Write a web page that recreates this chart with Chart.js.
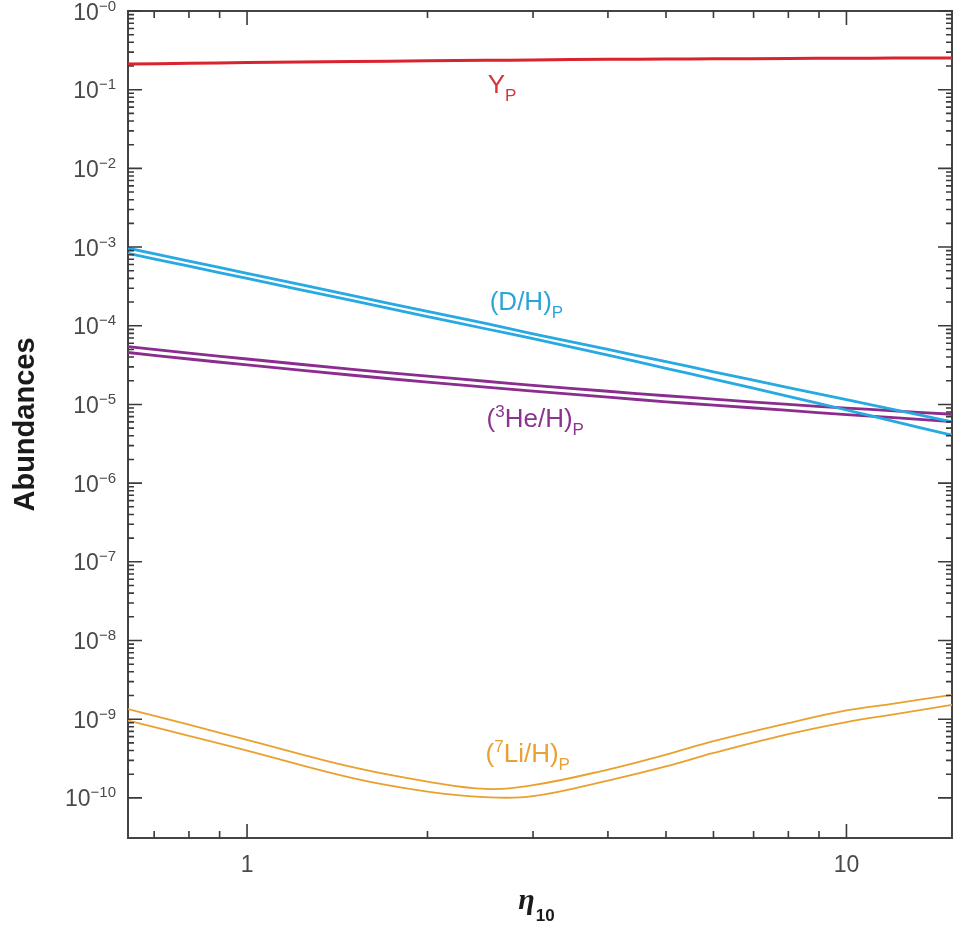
<!DOCTYPE html>
<html>
<head>
<meta charset="utf-8">
<script src="https://cdn.jsdelivr.net/npm/chart.js@4.4.1/dist/chart.umd.min.js"></script>
<style>
  html, body { margin: 0; padding: 0; background: #fff; }
</style>
</head>
<body>
<canvas id="bbnChart" width="953" height="926"></canvas>
<script>
// eta_10 sample points along the curves
const eta = [0.633, 0.8, 1, 1.5, 2, 2.5, 3, 4, 5, 6, 8, 10, 12, 15];

// primordial abundances (upper / lower edge of each band)
const heliumYp = [0.212, 0.216, 0.221, 0.228, 0.233, 0.236, 0.239, 0.243, 0.245, 0.247, 0.249, 0.251, 0.252, 0.253];
const deutHigh = [9.66e-4, 6.64e-4, 4.63e-4, 2.42e-4, 1.52e-4, 1.07e-4, 7.9e-5, 5.0e-5, 3.5e-5, 2.6e-5, 1.64e-5, 1.15e-5, 8.6e-6, 6.0e-6];
const deutLow = [8.32e-4, 5.71e-4, 3.99e-4, 2.08e-4, 1.31e-4, 9.16e-5, 6.84e-5, 4.24e-5, 2.88e-5, 2.10e-5, 1.27e-5, 8.5e-6, 6.1e-6, 4.06e-6];
const he3High = [5.43e-5, 4.50e-5, 3.78e-5, 2.79e-5, 2.29e-5, 1.97e-5, 1.75e-5, 1.47e-5, 1.29e-5, 1.17e-5, 1.00e-5, 9.0e-6, 8.3e-6, 7.5e-6];
const he3Low = [4.57e-5, 3.78e-5, 3.18e-5, 2.35e-5, 1.92e-5, 1.66e-5, 1.48e-5, 1.24e-5, 1.08e-5, 9.8e-6, 8.4e-6, 7.4e-6, 6.8e-6, 6.05e-6];
const li7High = [1.34e-9, 8.5e-10, 5.46e-10, 2.45e-10, 1.61e-10, 1.30e-10, 1.45e-10, 2.29e-10, 3.55e-10, 5.25e-10, 8.9e-10, 1.29e-9, 1.58e-9, 2.04e-9];
const li7Low = [9.6e-10, 6.14e-10, 3.98e-10, 1.78e-10, 1.20e-10, 1.02e-10, 1.05e-10, 1.66e-10, 2.51e-10, 3.72e-10, 6.46e-10, 9.2e-10, 1.15e-9, 1.52e-9];

// axis ticks
const xMajorTicks = [1, 10];
const xTickLabels = ['1', '10'];
const xMinorTicks = [0.7, 0.8, 0.9, 2, 3, 4, 5, 6, 7, 8, 9];
const yMajorTicks = [1, 1e-1, 1e-2, 1e-3, 1e-4, 1e-5, 1e-6, 1e-7, 1e-8, 1e-9, 1e-10];
const yTickExponents = ['−0', '−1', '−2', '−3', '−4', '−5', '−6', '−7', '−8', '−9', '−10'];
const yMinorTicks = [];
yMajorTicks.forEach(d => { for (let k = 2; k <= 9; k++) yMinorTicks.push(d * k); });

const SANS = '"Liberation Sans", Arial, Helvetica, sans-serif';

// curve labels: [text, level] with level 1 = superscript, -1 = subscript
const curveLabels = [
  { eta: 2.52, value: 0.0908, color: '#d8323a', parts: [['Y', 0], ['P', -1]] },
  { eta: 2.54, value: 1.59e-4, color: '#2ba4d8', parts: [['(D/H)', 0], ['P', -1]] },
  { eta: 2.51, value: 5.18e-6, color: '#8c3390', parts: [['(', 0], ['3', 1], ['He/H)', 0], ['P', -1]] },
  { eta: 2.50, value: 2.87e-10, color: '#e9a035', parts: [['(', 0], ['7', 1], ['Li/H)', 0], ['P', -1]] }
];

const pts = arr => eta.map((e, i) => ({ x: e, y: arr[i] }));

function curve(arr, color, width) {
  return {
    data: pts(arr),
    borderColor: color,
    borderWidth: width,
    pointRadius: 0,
    fill: false,
    tension: 0.4
  };
}

function drawRich(ctx, parts, x, base, color) {
  ctx.fillStyle = color;
  ctx.textBaseline = 'alphabetic';
  ctx.textAlign = 'left';
  parts.forEach(([t, lvl]) => {
    const size = lvl === 0 ? 26 : 17;
    ctx.font = size + 'px ' + SANS;
    const dy = lvl === 1 ? -10 : (lvl === -1 ? 8 : 0);
    ctx.fillText(t, x, base + dy);
    x += ctx.measureText(t).width;
  });
}

const inwardTicks = {
  id: 'inwardTicks',
  afterDraw(chart) {
    const { ctx, chartArea: a, scales: { x, y } } = chart;
    ctx.save();
    ctx.strokeStyle = '#3a3a3a';
    ctx.lineWidth = 1.6;
    ctx.beginPath();
    const vTick = (v, len) => {
      const p = x.getPixelForValue(v);
      ctx.moveTo(p, a.bottom); ctx.lineTo(p, a.bottom - len);
      ctx.moveTo(p, a.top); ctx.lineTo(p, a.top + len);
    };
    const hTick = (v, len) => {
      const p = y.getPixelForValue(v);
      if (p < a.top - 0.5 || p > a.bottom + 0.5) return;
      ctx.moveTo(a.left, p); ctx.lineTo(a.left + len, p);
      ctx.moveTo(a.right, p); ctx.lineTo(a.right - len, p);
    };
    xMinorTicks.forEach(v => vTick(v, 7));
    xMajorTicks.forEach(v => vTick(v, 14));
    yMinorTicks.forEach(v => hTick(v, 6));
    yMajorTicks.forEach(v => hTick(v, 14));
    ctx.stroke();

    // y tick labels: 10 with a raised exponent
    ctx.fillStyle = '#4a4a4a';
    ctx.textBaseline = 'alphabetic';
    ctx.textAlign = 'left';
    yMajorTicks.forEach((v, i) => {
      const p = y.getPixelForValue(v);
      const base = p + 8.5;
      ctx.font = '15px ' + SANS;
      const we = ctx.measureText(yTickExponents[i]).width;
      ctx.font = '23px ' + SANS;
      const wb = ctx.measureText('10').width;
      const right = a.left - 12;
      ctx.fillText('10', right - we - wb, base);
      ctx.font = '15px ' + SANS;
      ctx.fillText(yTickExponents[i], right - we, base - 9);
    });

    // x tick labels
    ctx.font = '23px ' + SANS;
    ctx.textAlign = 'center';
    xMajorTicks.forEach((v, i) => {
      ctx.fillText(xTickLabels[i], x.getPixelForValue(v), a.bottom + 34);
    });
    ctx.textAlign = 'left';

    // curve labels
    curveLabels.forEach(l => {
      drawRich(ctx, l.parts, x.getPixelForValue(l.eta), y.getPixelForValue(l.value), l.color);
    });

    // x axis title: eta_10
    ctx.fillStyle = '#1a1a1a';
    ctx.font = 'italic bold 30px "Liberation Serif", "DejaVu Serif", serif';
    const w1 = ctx.measureText('η').width;
    ctx.font = 'bold 17px ' + SANS;
    const w2 = ctx.measureText('10').width;
    const cx = (a.left + a.right) / 2 - 4;
    const sx = cx - (w1 + w2) / 2;
    ctx.font = 'italic bold 30px "Liberation Serif", "DejaVu Serif", serif';
    ctx.fillText('η', sx, 909);
    ctx.font = 'bold 17px ' + SANS;
    ctx.fillText('10', sx + w1 + 1, 921);
    ctx.restore();
  }
};

const ctx = document.getElementById('bbnChart').getContext('2d');

const X_MIN = 0.633, X_MAX = 15;
const Y_MIN = Math.pow(10, -10.51), Y_MAX = 1;

new Chart(ctx, {
  type: 'line',
  data: {
    datasets: [
      curve(heliumYp, '#d9232e', 3),
      curve(deutHigh, '#27a9e1', 2.8),
      curve(deutLow, '#27a9e1', 2.8),
      curve(he3High, '#8b2c8f', 2.8),
      curve(he3Low, '#8b2c8f', 2.8),
      curve(li7High, '#e9a12e', 1.8),
      curve(li7Low, '#e9a12e', 1.8)
    ]
  },
  options: {
    responsive: false,
    animation: false,
    layout: { autoPadding: false, padding: { top: 0, right: 1, bottom: 0, left: 0 } },
    plugins: {
      legend: { display: false },
      tooltip: { enabled: false }
    },
    scales: {
      x: {
        type: 'logarithmic',
        position: 'bottom',
        bounds: 'data',
        min: X_MIN,
        max: X_MAX,
        afterFit: s => { s.height = 88; },
        grid: { display: false, drawTicks: false },
        border: { display: true, color: '#444', width: 2 },
        ticks: { display: false }
      },
      xTop: {
        type: 'logarithmic',
        axis: 'x',
        position: 'top',
        bounds: 'data',
        min: X_MIN,
        max: X_MAX,
        afterFit: s => { s.height = 11; },
        grid: { display: false, drawTicks: false },
        border: { display: true, color: '#444', width: 2 },
        ticks: { display: false }
      },
      y: {
        type: 'logarithmic',
        position: 'left',
        bounds: 'data',
        min: Y_MIN,
        max: Y_MAX,
        afterFit: s => { s.width = 128; },
        grid: { display: false, drawTicks: false },
        border: { display: true, color: '#444', width: 2 },
        title: {
          display: true,
          text: 'Abundances',
          color: '#1a1a1a',
          font: { family: SANS, size: 29, weight: 'bold' },
          padding: { top: 9, bottom: 0 }
        },
        ticks: { display: false }
      },
      yRight: {
        type: 'logarithmic',
        axis: 'y',
        position: 'right',
        bounds: 'data',
        min: Y_MIN,
        max: Y_MAX,
        afterFit: s => { s.width = 0; },
        grid: { display: false, drawTicks: false },
        border: { display: true, color: '#444', width: 2 },
        ticks: { display: false }
      }
    }
  },
  plugins: [inwardTicks]
});
</script>
</body>
</html>
